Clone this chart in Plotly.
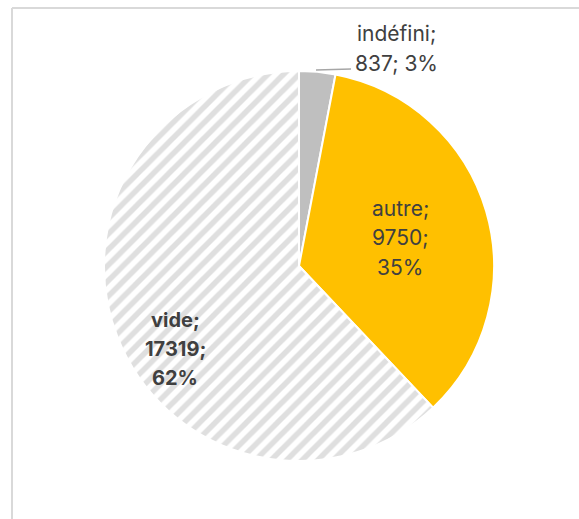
import plotly.graph_objects as go

# Data
categories = ["indéfini", "autre", "vide"]
counts = [837, 9750, 17319]
slice_colors = ["#BFBFBF", "#FFC000", "#FFFFFF"]
slice_patterns = ["", "", "/"]

W, H = 579, 519
total = sum(counts)
percents = [round(100 * v / total) for v in counts]

# Pie placement in pixels
cx, cy, R = 299, 266, 195


def px(x):
    return x / W


def py(y):
    return 1 - y / H


fig = go.Figure(
    go.Pie(
        labels=categories,
        values=counts,
        sort=False,
        direction="clockwise",
        rotation=0,
        textinfo="none",
        hoverinfo="label+value+percent",
        showlegend=False,
        marker=dict(
            colors=slice_colors,
            line=dict(color="#FFFFFF", width=2),
            pattern=dict(
                shape=slice_patterns,
                fgcolor="#BFBFBF",
                bgcolor="#FFFFFF",
                size=11,
                solidity=0.5,
                fillmode="overlay",
            ),
        ),
        domain=dict(x=[px(cx - R), px(cx + R)], y=[py(cy + R), py(cy - R)]),
    )
)

# Label text lines built from the data
label_lines = {
    "indéfini": [f"{categories[0]};", f"{counts[0]}; {percents[0]}%"],
    "autre": [f"{categories[1]};", f"{counts[1]};", f"{percents[1]}%"],
    "vide": [f"<b>{categories[2]};</b>", f"<b>{counts[2]};</b>", f"<b>{percents[2]}%</b>"],
}
# Label block centres (pixels), font size, line pitch
label_style = {
    "indéfini": dict(x=396, y=48, size=21, pitch=30),
    "autre": dict(x=400, y=238, size=21, pitch=29.5),
    "vide": dict(x=175, y=349, size=20, pitch=29),
}

annotations = []
for name, lines in label_lines.items():
    st = label_style[name]
    n = len(lines)
    for i, line in enumerate(lines):
        y = st["y"] + (i - (n - 1) / 2) * st["pitch"]
        annotations.append(
            dict(
                x=px(st["x"]), y=py(y), xref="paper", yref="paper",
                text=line, showarrow=False, xanchor="center", yanchor="middle",
                font=dict(family="Inter, Liberation Sans, Arial", size=st["size"], color="#404040"),
            )
        )

shapes = [
    # chart frame (top and left edges visible)
    dict(type="line", xref="paper", yref="paper", x0=px(12), y0=py(8), x1=px(W + 5), y1=py(8),
         line=dict(color="#D9D9D9", width=2)),
    dict(type="line", xref="paper", yref="paper", x0=px(12), y0=py(8), x1=px(12), y1=py(H + 5),
         line=dict(color="#D9D9D9", width=2)),
    # leader line for the small slice
    dict(type="line", xref="paper", yref="paper", x0=px(316), y0=py(70), x1=px(351), y1=py(69),
         line=dict(color="#A6A6A6", width=1.5)),
]

fig.update_layout(
    width=W, height=H,
    margin=dict(l=0, r=0, t=0, b=0),
    paper_bgcolor="#FFFFFF",
    plot_bgcolor="#FFFFFF",
    annotations=annotations,
    shapes=shapes,
)

fig.write_html("out.html")
